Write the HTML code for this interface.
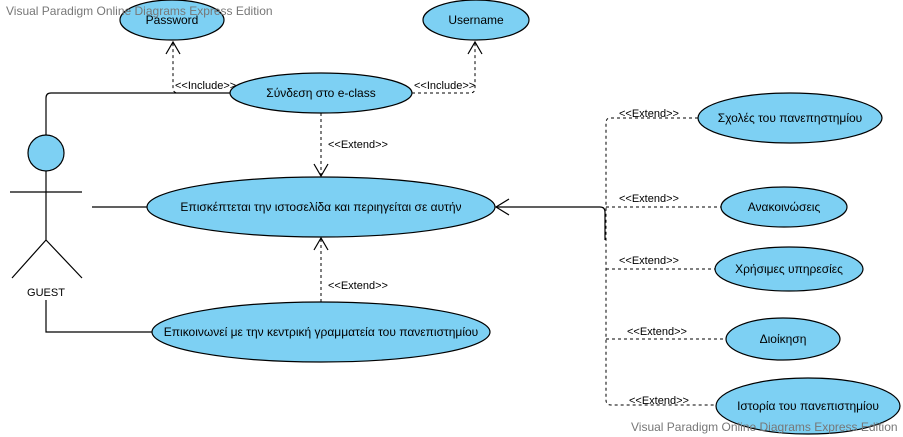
<!DOCTYPE html>
<html><head><meta charset="utf-8"><style>
body{margin:0;background:#fff}
svg{display:block}
text{font-family:"Liberation Sans","DejaVu Sans",sans-serif;fill:#000}
.e{fill:#7dd0f3;stroke:#000;stroke-width:1.2}
.d{fill:none;stroke:#000;stroke-dasharray:3,3}
.s{fill:none;stroke:#000;stroke-width:1.2}
.l{font-size:11px}
.t{font-size:12px;text-anchor:middle}
</style></head><body>
<svg width="903" height="437" viewBox="0 0 903 437">
<ellipse class="e" cx="172" cy="20" rx="52" ry="20"/>
<ellipse class="e" cx="476" cy="20" rx="53" ry="20"/>
<ellipse class="e" cx="321" cy="93" rx="91" ry="20"/>
<ellipse class="e" cx="321" cy="207" rx="174" ry="30"/>
<ellipse class="e" cx="321" cy="332" rx="169" ry="30"/>
<ellipse class="e" cx="790" cy="118" rx="92" ry="25"/>
<ellipse class="e" cx="784" cy="207" rx="63" ry="20"/>
<ellipse class="e" cx="789" cy="269" rx="74" ry="22"/>
<ellipse class="e" cx="783" cy="339" rx="57" ry="21"/>
<ellipse class="e" cx="808" cy="406" rx="92" ry="28"/>
<text x="6" y="15" style="font-size:12px;fill:#777">Visual Paradigm Online Diagrams Express Edition</text>
<text x="631" y="431" style="font-size:12px;fill:#777">Visual Paradigm Online Diagrams Express Edition</text>
<text class="t" x="172" y="24">Password</text>
<text class="t" x="476" y="24">Username</text>
<text class="t" x="321" y="97">Σύνδεση στο e-class</text>
<text class="t" x="321" y="211">Επισκέπτεται την ιστοσελίδα και περιηγείται σε αυτήν</text>
<text class="t" x="321" y="336">Επικοινωνεί με την κεντρική γραμματεία του πανεπιστημίου</text>
<text class="t" x="790" y="122">Σχολές του πανεπηστημίου</text>
<text class="t" x="784" y="211">Ανακοινώσεις</text>
<text class="t" x="789" y="273">Χρήσιμες υπηρεσίες</text>
<text class="t" x="783" y="343">Διοίκηση</text>
<text class="t" x="808" y="410">Ιστορία του πανεπιστημίου</text>
<!-- actor -->
<circle class="e" cx="46" cy="153" r="18"/>
<path class="s" d="M46 171V240M10 192H82M46 240L12 278M46 240L82 278"/>
<text class="t" x="46" y="296" style="font-size:11px">GUEST</text>
<path class="s" d="M46 135V98Q46 93 51 93H230M92 207H147M46 300V332H152"/>
<!-- includes -->
<path class="d" d="M230 93H178Q173 93 173 88V42"/>
<path class="s" d="M166 54L173 42L180 54"/>
<path class="d" d="M412 93H470Q475 93 475 88V42"/>
<path class="s" d="M468 54L475 42L482 54"/>
<text class="l" x="175" y="89">&lt;&lt;Include&gt;&gt;</text>
<text class="l" x="414" y="89">&lt;&lt;Include&gt;&gt;</text>
<!-- extends -->
<path class="d" d="M321 113V175"/>
<path class="s" d="M314 164L321 176L328 164"/>
<text class="l" x="328" y="148">&lt;&lt;Extend&gt;&gt;</text>
<path class="d" d="M321 302V239"/>
<path class="s" d="M314 250L321 238L328 250"/>
<text class="l" x="328" y="289">&lt;&lt;Extend&gt;&gt;</text>
<path class="s" d="M496 207H600Q605 207 605 212V240"/>
<path class="s" d="M509 199L496 207L509 215"/>
<path class="d" d="M698 118H610Q606 118 606 123V400Q606 405 611 405H715"/>
<path class="d" d="M606 207H721M606 269H715M606 339H726"/>
<text class="l" x="619" y="117">&lt;&lt;Extend&gt;&gt;</text>
<text class="l" x="619" y="202">&lt;&lt;Extend&gt;&gt;</text>
<text class="l" x="619" y="264">&lt;&lt;Extend&gt;&gt;</text>
<text class="l" x="627" y="335">&lt;&lt;Extend&gt;&gt;</text>
<text class="l" x="629" y="404">&lt;&lt;Extend&gt;&gt;</text>
</svg>
</body></html>
